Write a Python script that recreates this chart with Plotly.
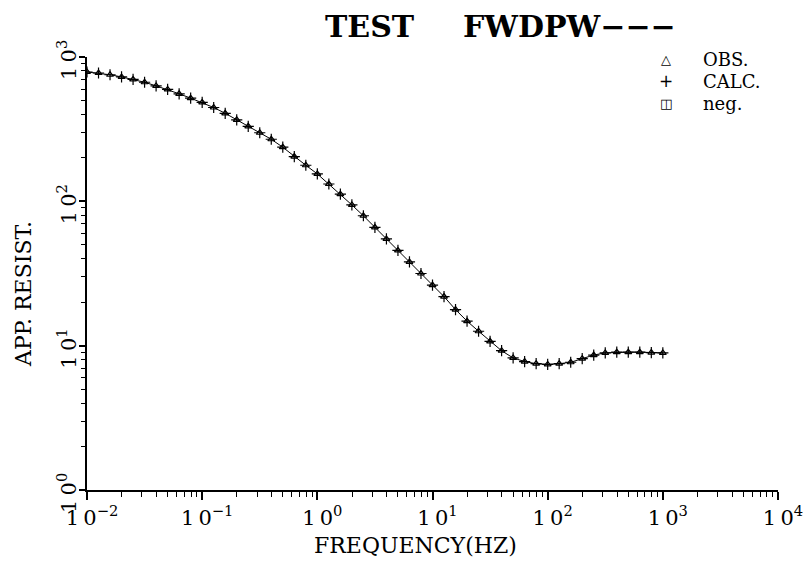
import plotly.graph_objects as go

# ---- data ----
log_freq_start = -2.0
log_freq_step = 0.1
n_points = 51
freq = [round(10 ** (log_freq_start + log_freq_step * i), 6) for i in range(n_points)]

log_rho = [2.896, 2.889, 2.877, 2.862, 2.845, 2.825, 2.800, 2.775, 2.745, 2.715,
           2.685, 2.650, 2.610, 2.565, 2.520, 2.475, 2.430, 2.375, 2.310, 2.250,
           2.190, 2.120, 2.050, 1.975, 1.900, 1.820, 1.740, 1.660, 1.580, 1.500,
           1.420, 1.340, 1.250, 1.170, 1.100, 1.030, 0.965, 0.915, 0.890, 0.875,
           0.870, 0.875, 0.885, 0.910, 0.935, 0.950, 0.955, 0.955, 0.955, 0.952,
           0.950]
rho_obs = [10 ** v for v in log_rho]
rho_calc = [10 ** v for v in log_rho]

TS = "\u2009"
x_tickvals = [1e-2, 1e-1, 1e0, 1e1, 1e2, 1e3, 1e4]
x_ticktext = [f"1{TS}0<sup>{e}</sup>" for e in ["−2", "−1", "0", "1", "2", "3", "4"]]
y_tickvals = [1, 10, 100, 1000]
y_ticktext = [f"1{TS}0<sup>{e}</sup>" for e in ["0", "1", "2", "3"]]

x_minor = [m * 10 ** e for e in range(-2, 4) for m in range(2, 10)]
y_minor = [m * 10 ** e for e in range(0, 3) for m in range(2, 10)]

legend_symbols = ["△", "+", "◫"]
legend_labels = ["OBS.", "CALC.", "neg."]

FONT = "DejaVu Serif"
L, R, T, B = 87, 27, 57, 73
W, H = 805, 563
pw, ph = W - L - R, H - T - B


def px2paper(px, py):
    return (px - L) / pw, 1 - (py - T) / ph


fig = go.Figure()
fig.add_trace(go.Scatter(x=freq, y=rho_calc, mode="lines",
                         line=dict(color="black", width=1), showlegend=False,
                         hoverinfo="skip"))
fig.add_trace(go.Scatter(x=freq, y=rho_obs, mode="markers", name="OBS.", showlegend=False,
                         marker=dict(symbol="triangle-up-open", size=6, color="black",
                                     line=dict(width=1.2, color="black"))))
fig.add_trace(go.Scatter(x=freq, y=rho_calc, mode="markers", name="CALC.", showlegend=False,
                         marker=dict(symbol="cross-thin-open", size=8, color="black",
                                     line=dict(width=1.2, color="black"))))

annotations = []


def ann(text, px, py, size, xanchor="center", angle=0, family=FONT):
    x, y = px2paper(px, py)
    annotations.append(dict(text=text, x=x, y=y, xref="paper", yref="paper",
                            showarrow=False, xanchor=xanchor, yanchor="middle",
                            textangle=angle, font=dict(family=family, size=size, color="black")))


ann("<b>TEST</b>", 323, 26, 30, xanchor="left")
ann("<b>FWDPW−−−</b>", 461, 26, 30, xanchor="left")
ann("FREQUENCY(HZ)", 415, 545, 22)
ann("APP. RESIST.", 23, 294, 22, angle=-90)

rows_y = [59, 81, 103]
sym_sizes = [13, 17, 13]
for s, lab, ry, ss in zip(legend_symbols, legend_labels, rows_y, sym_sizes):
    ann(s, 666, ry, ss, family="DejaVu Sans")
    ann(lab, 701, ry, 18, xanchor="left")

fig.update_layout(
    width=W, height=H,
    margin=dict(l=L, r=R, t=T, b=B, autoexpand=False),
    paper_bgcolor="white", plot_bgcolor="white",
    font=dict(family=FONT, color="black", size=18),
    showlegend=False,
    annotations=annotations,
)

fig.update_xaxes(type="log", range=[-2, 4], showgrid=False, zeroline=False,
                 automargin=False,
                 showline=True, linecolor="black", linewidth=2, mirror=False,
                 ticks="outside", ticklen=8, tickwidth=1.5, tickcolor="black",
                 tickmode="array", tickvals=x_tickvals, ticktext=x_ticktext,
                 tickfont=dict(family=FONT, size=21), ticklabelshift=5,
                 ticklabeloverflow="allow",
                 minor=dict(tickmode="array", tickvals=x_minor, ticks="outside",
                            ticklen=5, tickwidth=1.2, tickcolor="black", showgrid=False))
fig.update_yaxes(type="log", range=[0, 3], showgrid=False, zeroline=False,
                 automargin=False,
                 showline=True, linecolor="black", linewidth=2, mirror=False,
                 ticks="outside", ticklen=6, tickwidth=1.5, tickcolor="black",
                 tickmode="array", tickvals=y_tickvals, ticktext=y_ticktext,
                 tickangle=-90, tickfont=dict(family=FONT, size=21),
                 ticklabelshift=6, ticklabelstandoff=-5, ticklabeloverflow="allow",
                 minor=dict(tickmode="array", tickvals=y_minor, ticks="outside",
                            ticklen=4, tickwidth=1.2, tickcolor="black", showgrid=False))

fig.write_html("out.html")
